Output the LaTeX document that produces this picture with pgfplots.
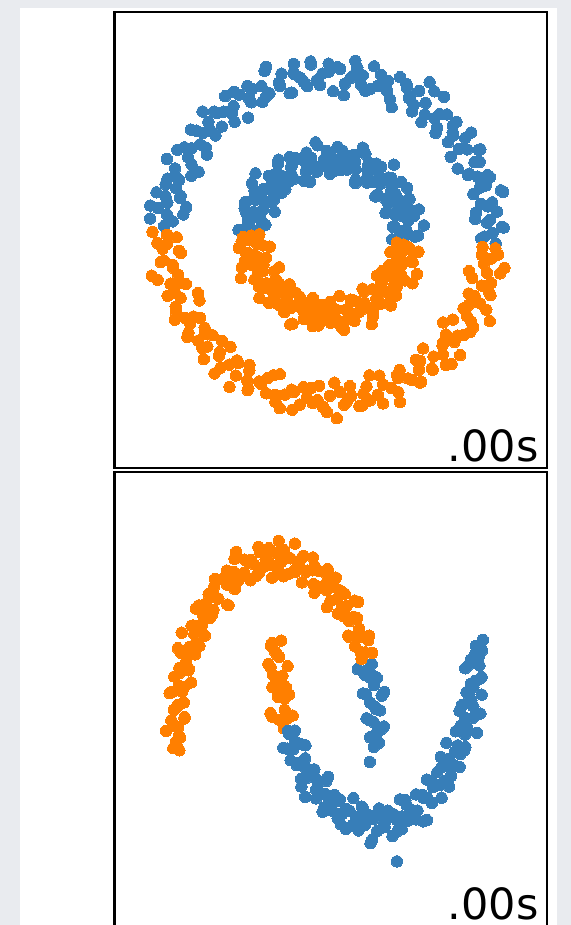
\documentclass[border=0pt]{standalone}
\usepackage{pgfplots}
\pgfplotsset{compat=1.18}
\usepackage{fontspec}
\setmainfont{DejaVu Sans}
\definecolor{bgc}{RGB}{233,235,239}
\definecolor{cBlue}{RGB}{55,126,184}
\definecolor{cOrange}{RGB}{255,127,0}
\pgfplotsset{
  panel/.style={anchor=north west, width=216.25pt, height=228pt, scale only axis,
    xtick=\empty, ytick=\empty, axis line style={line width=1.15pt, black}, clip=false},
  dotsB/.style={only marks, mark=*, mark size=2.85pt, color=cBlue, mark options={fill=cBlue, draw=cBlue, line width=0pt}},
  dotsO/.style={only marks, mark=*, mark size=2.85pt, color=cOrange, mark options={fill=cOrange, draw=cOrange, line width=0pt}},
}
\begin{document}
\begin{tikzpicture}
\useasboundingbox (0pt,0pt) rectangle (285.5pt,-462.5pt);
\fill[bgc] (0pt,0pt) rectangle (285.5pt,-462.5pt);
\fill[white] (10pt,-4pt) rectangle (278.5pt,-462.5pt);
% ---------- top panel: circles (angle, radius) ----------
\begin{axis}[panel, at={(57.25pt,-6pt)}, xmin=-1.324, xmax=1.346, ymin=-1.426, ymax=1.389]
% outer ring, blue part
\addplot[dotsB, data cs=polar] coordinates {
(-2.2,1.03) (-0.5,0.94) (1.4,1.01) (3.1,1.08) (5.2,0.98) (7.0,0.91) (8.6,1.05) (10.9,1.00) (12.3,0.96) (14.5,1.11) (16.6,0.93) (18.2,1.02) (20.4,1.06) (22.1,0.99) (24.3,0.95) (26.5,1.04) (28.0,0.90) (30.2,1.07) (32.4,1.01) (34.1,0.97) (36.3,1.09) (38.5,0.94) (40.2,1.00) (42.0,1.03) (44.3,0.92) (46.1,1.05) (48.4,0.98) (50.6,1.12) (52.0,0.96) (54.2,1.02) (56.5,0.93) (58.3,1.06) (60.1,0.99) (62.4,1.04) (64.2,0.89) (66.0,1.08) (68.3,0.97) (70.5,1.01) (72.1,1.05) (74.4,0.95) (76.0,0.93) (78.2,1.02) (80.5,1.06) (82.3,0.99) (84.1,0.95) (86.2,1.04) (88.4,0.90) (90.1,1.07) (92.3,1.01) (94.5,0.97) (96.0,1.09) (98.2,0.94) (100.3,1.00) (102.1,1.03) (104.4,0.92) (106.2,1.05) (108.0,0.98) (110.3,1.12) (112.5,0.96) (114.1,1.02) (116.2,0.93) (118.4,1.06) (120.0,0.99) (122.3,1.04) (124.1,0.89) (126.4,1.08) (128.2,0.97) (130.0,1.01) (132.5,1.05) (134.1,0.95) (136.3,1.03) (138.2,0.94) (140.4,1.01) (142.1,1.08) (144.3,0.98) (146.0,0.91) (148.2,1.05) (150.5,1.00) (152.1,0.96) (154.3,1.11) (156.0,0.93) (158.4,1.02) (160.1,1.06) (162.3,0.99) (164.5,0.95) (166.0,1.04) (168.2,0.90) (170.4,1.07) (172.1,1.01) (174.3,0.97) (176.2,1.02) (81.5,1.10) (57.0,1.14) (101.5,1.09) (170.0,1.12) (165.5,1.10)
(0.2,0.96) (3.3,1.07) (6.1,1.00) (9.4,0.92) (12.0,1.03) (15.2,1.10) (18.1,0.98) (21.3,1.05) (24.0,0.94) (27.2,1.01) (30.1,1.08) (33.4,0.90) (36.0,1.04) (39.2,0.99) (42.1,1.06) (45.3,0.95) (48.0,1.02) (51.2,0.91) (54.1,1.11) (57.4,0.97) (60.0,1.00) (63.2,1.06) (66.1,0.93) (69.3,1.03) (72.0,0.98) (75.2,1.09) (78.1,0.96) (81.3,1.01) (84.0,0.88) (87.2,1.05) (90.1,1.02) (93.4,0.94) (96.0,1.07) (99.2,0.97) (102.1,1.04) (105.3,0.92) (108.0,1.00) (111.2,1.10) (114.1,0.95) (117.4,1.03) (120.0,0.96) (123.2,1.07) (126.1,1.00) (129.3,0.92) (132.0,1.03) (135.2,1.10) (138.1,0.98) (141.3,1.05) (144.0,0.94) (147.2,1.01) (150.1,1.08) (153.4,0.90) (156.0,1.04) (159.2,0.99) (162.1,1.06) (165.3,0.95) (168.0,1.02) (171.2,0.91) (174.1,1.11)
};
% inner ring, blue part
\addplot[dotsB, data cs=polar] coordinates {
(-4.5,0.46) (-2.1,0.39) (0.3,0.53) (2.5,0.48) (4.8,0.44) (7.0,0.59) (9.4,0.41) (11.6,0.50) (13.9,0.54) (16.2,0.47) (18.5,0.43) (20.7,0.52) (23.0,0.38) (25.3,0.55) (27.6,0.49) (29.9,0.45) (32.1,0.57) (34.4,0.42) (36.7,0.48) (39.0,0.51) (41.2,0.40) (43.5,0.53) (45.8,0.46) (48.1,0.60) (50.3,0.44) (52.6,0.50) (54.9,0.41) (57.2,0.54) (59.4,0.47) (61.7,0.52) (64.0,0.37) (66.3,0.56) (68.5,0.45) (70.8,0.49) (73.1,0.53) (75.4,0.43) (77.6,0.51) (79.9,0.42) (82.2,0.49) (84.5,0.56) (86.7,0.46) (89.0,0.39) (91.3,0.53) (93.6,0.48) (95.8,0.44) (98.1,0.59) (100.4,0.41) (102.7,0.50) (104.9,0.54) (107.2,0.47) (109.5,0.43) (111.8,0.52) (114.0,0.38) (116.3,0.55) (118.6,0.49) (120.9,0.45) (123.1,0.57) (125.4,0.42) (127.7,0.48) (130.0,0.51) (132.2,0.40) (134.5,0.53) (136.8,0.46) (139.1,0.60) (141.3,0.44) (143.6,0.50) (145.9,0.41) (148.2,0.54) (150.4,0.47) (152.7,0.52) (155.0,0.37) (157.3,0.56) (159.5,0.45) (161.8,0.49) (164.1,0.53) (166.4,0.43) (168.6,0.51) (170.9,0.42) (173.2,0.49) (175.5,0.56)
(-3.3,0.44) (0.9,0.55) (5.1,0.48) (9.0,0.40) (13.2,0.51) (17.1,0.58) (21.3,0.46) (25.2,0.53) (29.0,0.42) (33.1,0.49) (37.3,0.56) (41.2,0.38) (45.0,0.52) (49.1,0.47) (53.3,0.54) (57.2,0.43) (61.0,0.50) (65.1,0.39) (69.3,0.59) (73.2,0.45) (77.0,0.48) (81.1,0.54) (85.3,0.41) (89.2,0.51) (93.0,0.46) (97.1,0.57) (101.3,0.44) (105.2,0.49) (109.0,0.36) (113.1,0.53) (117.3,0.50) (121.2,0.42) (125.0,0.55) (129.1,0.45) (133.3,0.52) (137.2,0.40) (141.0,0.48) (145.1,0.58) (149.3,0.43) (153.2,0.51) (157.0,0.44) (161.1,0.55) (165.3,0.48) (169.2,0.40) (173.0,0.51)
};
% outer ring, orange part
\addplot[dotsO, data cs=polar] coordinates {
(178.3,1.09) (180.1,0.94) (182.4,1.00) (184.0,1.03) (186.2,0.92) (188.5,1.05) (190.1,0.98) (192.3,1.12) (194.0,0.96) (196.4,1.02) (198.2,0.93) (200.0,1.06) (202.3,0.99) (204.5,1.04) (206.1,0.89) (208.2,1.08) (210.4,0.97) (212.0,1.01) (214.3,1.05) (216.1,0.95) (218.4,1.03) (220.2,0.94) (222.0,1.01) (224.3,1.08) (226.5,0.98) (228.1,0.91) (230.3,1.05) (232.0,1.00) (234.2,0.96) (236.4,1.11) (238.1,0.93) (240.3,1.02) (242.0,1.06) (244.2,0.99) (246.5,0.95) (248.1,1.04) (250.3,0.90) (252.0,1.07) (254.4,1.01) (256.2,0.97) (258.0,1.09) (260.3,0.94) (262.1,1.00) (264.4,1.03) (266.2,0.92) (268.0,1.05) (270.3,0.98) (272.5,1.12) (274.1,0.96) (276.3,1.02) (278.0,0.93) (280.2,1.06) (282.4,0.99) (284.1,1.04) (286.3,0.89) (288.0,1.08) (290.2,0.97) (292.5,1.01) (294.1,1.05) (296.3,0.95) (298.0,0.93) (300.2,1.02) (302.4,1.06) (304.1,0.99) (306.3,0.95) (308.0,1.04) (310.2,0.90) (312.4,1.07) (314.1,1.01) (316.3,0.97) (318.0,1.09) (320.2,0.94) (322.5,1.00) (324.1,1.03) (326.3,0.92) (328.0,1.05) (330.2,0.98) (332.4,1.12) (334.1,0.96) (336.3,1.02) (338.0,0.93) (340.2,1.06) (342.4,0.99) (344.1,1.04) (346.3,0.89) (348.0,1.08) (350.2,0.97) (352.4,1.01) (354.1,1.05) (356.3,0.95)
(179.2,1.00) (182.0,1.06) (185.3,0.93) (188.1,1.03) (191.2,0.98) (194.0,1.09) (197.3,0.96) (200.1,1.01) (203.2,0.88) (206.0,1.05) (209.3,1.02) (212.1,0.94) (215.2,1.07) (218.0,0.97) (221.3,1.04) (224.1,0.92) (227.2,1.00) (230.0,1.10) (233.3,0.95) (236.1,1.03) (239.2,0.96) (242.0,1.07) (245.3,1.00) (248.1,0.92) (251.2,1.03) (254.0,1.10) (257.3,0.98) (260.1,1.05) (263.2,0.94) (266.0,1.01) (269.3,1.08) (272.1,0.90) (275.2,1.04) (278.0,0.99) (281.3,1.06) (284.1,0.95) (287.2,1.02) (290.0,0.91) (293.3,1.11) (296.1,0.97) (299.2,1.00) (302.0,1.06) (305.3,0.93) (308.1,1.03) (311.2,0.98) (314.0,1.09) (317.3,0.96) (320.1,1.01) (323.2,0.88) (326.0,1.05) (329.3,1.02) (332.1,0.94) (335.2,1.07) (338.0,0.97) (341.3,1.04) (344.1,0.92) (347.2,1.00) (350.0,1.10) (353.3,0.95) (356.1,1.03)
};
% inner ring, orange part
\addplot[dotsO, data cs=polar] coordinates {
(177.8,0.43) (180.1,0.53) (182.4,0.49) (184.7,0.45) (186.9,0.56) (189.2,0.37) (191.5,0.52) (193.8,0.47) (196.0,0.54) (198.3,0.41) (200.6,0.50) (202.9,0.44) (205.1,0.60) (207.4,0.46) (209.7,0.53) (212.0,0.40) (214.2,0.51) (216.5,0.48) (218.8,0.42) (221.1,0.57) (223.3,0.45) (225.6,0.49) (227.9,0.55) (230.2,0.38) (232.4,0.52) (234.7,0.43) (237.0,0.47) (239.3,0.54) (241.5,0.50) (243.8,0.41) (246.1,0.59) (248.4,0.44) (250.6,0.48) (252.9,0.53) (255.2,0.39) (257.5,0.46) (259.7,0.56) (262.0,0.49) (264.3,0.42) (266.6,0.51) (268.8,0.43) (271.1,0.53) (273.4,0.49) (275.7,0.45) (277.9,0.56) (280.2,0.37) (282.5,0.52) (284.8,0.47) (287.0,0.54) (289.3,0.41) (291.6,0.50) (293.9,0.44) (296.1,0.60) (298.4,0.46) (300.7,0.53) (303.0,0.40) (305.2,0.51) (307.5,0.48) (309.8,0.42) (312.1,0.57) (314.3,0.45) (316.6,0.49) (318.9,0.55) (321.2,0.38) (323.4,0.52) (325.7,0.43) (328.0,0.47) (330.3,0.54) (332.5,0.50) (334.8,0.41) (337.1,0.59) (339.4,0.44) (341.6,0.48) (343.9,0.53) (346.2,0.39) (348.5,0.46) (350.7,0.56) (353.0,0.49) (355.3,0.42)
(178.9,0.48) (183.0,0.54) (187.2,0.41) (191.1,0.51) (195.3,0.46) (199.2,0.57) (203.0,0.44) (207.1,0.49) (211.3,0.36) (215.2,0.53) (219.0,0.50) (223.1,0.42) (227.3,0.55) (231.2,0.45) (235.0,0.52) (239.1,0.40) (243.3,0.48) (247.2,0.58) (251.0,0.43) (255.1,0.51) (259.3,0.44) (263.2,0.55) (267.0,0.48) (271.1,0.40) (275.3,0.51) (279.2,0.58) (283.0,0.46) (287.1,0.53) (291.3,0.42) (295.2,0.49) (299.0,0.56) (303.1,0.38) (307.3,0.52) (311.2,0.47) (315.0,0.54) (319.1,0.43) (323.3,0.50) (327.2,0.39) (331.0,0.59) (335.1,0.45) (339.3,0.48) (343.2,0.54) (347.0,0.41) (351.1,0.51) (354.2,0.46)
};
\end{axis}
% ---------- bottom panel: moons ----------
\begin{scope}
\clip (0pt,0pt) rectangle (285.5pt,-462.5pt);
\begin{axis}[panel, at={(57.25pt,-236pt)}, xmin=-1.615, xmax=2.71, ymin=-1.103, ymax=1.503]
% upper moon, given about its centre (0, 0)
\addplot[dotsB, data cs=polar] coordinates {
(-9.3,0.95) (-2.5,1.03) (-0.8,0.94) (0.9,1.01) (2.6,1.08) (4.3,0.98) (6.0,0.91) (7.7,1.05) (9.4,1.00) (11.1,0.96) (12.8,1.11) (14.5,0.93) (16.2,1.02) (17.9,1.06) (19.6,0.99) (21.3,0.95) (23.0,1.04) (24.7,0.90)
(-4.0,0.98) (1.7,1.05) (5.2,0.94) (8.5,1.01) (12.0,1.08) (15.3,0.90) (18.8,1.04) (22.1,0.99)
};
\addplot[dotsO, data cs=polar] coordinates {
(26.0,1.07) (27.9,1.01) (29.3,0.97) (31.4,1.09) (32.6,0.94) (34.8,1.00) (36.1,1.03) (38.2,0.92) (39.5,1.05) (41.6,0.98) (42.8,1.12) (44.9,0.96) (46.2,1.02) (48.3,0.93) (49.6,1.06) (51.8,0.99) (53.0,1.04) (55.1,0.89) (56.4,1.08) (58.5,0.97) (59.8,1.01) (61.9,1.05) (63.2,0.95) (65.3,1.03) (66.6,0.94) (68.7,1.01) (70.0,1.08) (72.1,0.98) (73.4,0.91) (75.5,1.05) (76.8,1.00) (78.9,0.96) (80.2,1.11) (82.3,0.93) (83.6,1.02) (85.7,1.06) (87.0,0.99) (89.1,0.95) (90.4,1.04) (92.5,0.90) (93.8,1.07) (95.9,1.01) (97.2,0.97) (99.3,1.09) (100.6,0.94) (102.7,1.00) (104.0,1.03) (106.1,0.92) (107.4,1.05) (109.5,0.98) (110.8,1.12) (112.9,0.96) (114.2,1.02) (116.3,0.93) (117.6,1.06) (119.7,0.99) (121.0,1.04) (123.1,0.89) (124.4,1.08) (126.5,0.97) (127.8,1.01) (129.9,1.05) (131.2,0.95) (133.3,1.03) (134.6,0.94) (136.7,1.01) (138.0,1.08) (140.1,0.98) (141.4,0.91) (143.5,1.05) (144.8,1.00) (146.9,0.96) (148.2,1.11) (150.3,0.93) (151.6,1.02) (153.7,1.06) (155.0,0.99) (157.1,0.95) (158.4,1.04) (160.5,0.90) (161.8,1.07) (163.9,1.01) (165.2,0.97) (167.3,1.09) (168.6,0.94) (170.7,1.00) (172.0,1.03) (174.1,0.92) (175.4,1.05) (177.5,0.98) (178.8,1.10) (180.9,0.96) (182.2,1.00)
(27.0,0.96) (30.4,1.07) (34.1,1.00) (37.6,0.92) (41.0,1.03) (44.3,1.10) (47.8,0.98) (51.1,1.05) (54.6,0.94) (58.0,1.01) (61.4,1.08) (64.7,0.90) (68.2,1.04) (71.6,0.99) (75.0,1.06) (78.4,0.95) (81.9,1.02) (85.2,0.91) (88.6,1.11) (92.0,0.97) (95.5,1.00) (98.8,1.06) (102.3,0.93) (105.7,1.03) (109.0,0.98) (112.4,1.09) (115.9,0.96) (119.3,1.01) (122.6,0.88) (126.0,1.05) (129.5,1.02) (132.9,0.94) (136.2,1.07) (139.6,0.97) (143.0,1.04) (146.4,0.92) (149.8,1.00) (153.2,1.10) (156.6,0.95) (160.0,1.03) (163.4,0.96) (166.8,1.07) (170.2,1.00) (173.6,0.92) (177.0,1.03) (180.4,0.97)
(183.8,0.99) (185.2,0.97) (184.2,1.03)
};
\end{axis}
% lower moon, given about its own centre (1, 0.5)
\begin{axis}[panel, hide axis, at={(57.25pt,-236pt)}, xmin=-2.615, xmax=1.71, ymin=-1.603, ymax=1.003]
\addplot[dotsO, data cs=polar] coordinates {
(177.6,0.95) (179.5,1.05) (181.3,1.01) (183.2,0.97) (185.0,1.08) (186.9,0.89) (188.7,1.04) (190.4,0.99) (192.3,1.06) (194.1,0.93) (196.0,1.02) (197.7,0.96) (199.6,1.12) (201.3,0.98) (203.2,1.05) (205.0,0.92) (206.7,1.03)
(178.6,1.04) (182.4,0.99) (186.1,1.06) (189.8,0.95) (193.5,1.02) (197.2,0.91) (200.9,1.11) (204.6,0.97)
};
\addplot[dotsB, data cs=polar] coordinates {
(208.4,1.00) (210.3,0.94) (211.7,1.09) (213.6,0.97) (215.1,1.01) (217.0,1.07) (218.4,0.90) (220.3,1.04) (221.8,0.95) (223.6,0.99) (225.1,1.06) (227.0,1.02) (228.5,0.93) (230.3,1.11) (231.8,0.96) (233.7,1.00) (235.2,1.05) (237.0,0.91) (238.5,0.98) (240.4,1.08) (241.9,1.01) (243.7,0.94) (245.2,1.03) (247.1,0.95) (248.6,1.05) (250.4,1.01) (251.9,0.97) (253.8,1.08) (255.3,0.89) (257.1,1.04) (258.6,0.99) (260.5,1.06) (262.0,0.93) (263.8,1.02) (265.3,0.96) (267.2,1.12) (268.7,0.98) (270.5,1.05) (272.0,0.92) (273.9,1.03) (275.4,1.00) (277.2,0.94) (278.7,1.09) (280.6,0.97) (282.1,1.01) (283.9,1.07) (285.4,0.90) (287.3,1.04) (288.8,0.95) (290.6,0.99) (292.1,1.06) (294.0,1.02) (295.5,0.93) (297.3,1.11) (298.8,0.96) (300.7,1.00) (302.2,1.05) (304.0,0.91) (305.5,0.98) (307.4,1.08) (308.9,1.01) (310.7,0.94) (312.2,1.03) (314.1,0.95) (315.6,1.05) (317.4,1.01) (318.9,0.97) (320.8,1.08) (322.3,0.89) (324.1,1.04) (325.6,0.99) (327.5,1.06) (329.0,0.93) (330.8,1.02) (332.3,0.96) (334.2,1.12) (335.7,0.98) (337.5,1.05) (339.0,0.92) (340.9,1.03) (342.4,1.00) (344.2,0.94) (345.7,1.09) (347.6,0.97) (349.1,1.01) (350.9,1.07) (352.4,0.90) (354.3,1.04) (355.8,0.95) (357.6,0.99) (359.1,1.06) (279.7,1.24) (362.3,1.07) (360.5,1.00)
(209.6,1.00) (213.0,1.06) (216.5,0.93) (219.9,1.03) (223.3,0.98) (226.8,1.09) (230.2,0.96) (233.6,1.01) (237.1,0.88) (240.5,1.05) (243.9,1.02) (247.4,0.94) (250.8,1.07) (254.2,0.97) (257.7,1.04) (261.1,0.92) (264.5,1.00) (268.0,1.10) (271.4,0.95) (274.8,1.03) (278.3,0.96) (281.7,1.07) (285.1,1.00) (288.6,0.92) (292.0,1.03) (295.4,1.10) (298.9,0.98) (302.3,1.05) (305.7,0.94) (309.2,1.01) (312.6,1.08) (316.0,0.90) (319.5,1.04) (322.9,0.99) (326.3,1.06) (329.8,0.95) (333.2,1.02) (336.6,0.91) (340.1,1.11) (343.5,0.97) (346.9,1.00) (350.4,1.06) (353.8,0.93) (357.2,1.03)
};
\end{axis}
\end{scope}
\node[anchor=base east, inner sep=0pt, font=\fontsize{21.5}{25}\selectfont] at (269.5pt,-230.5pt) {.00s};
\node[anchor=base east, inner sep=0pt, font=\fontsize{21.5}{25}\selectfont] at (269.5pt,-459.8pt) {.00s};
\end{tikzpicture}
\end{document}
